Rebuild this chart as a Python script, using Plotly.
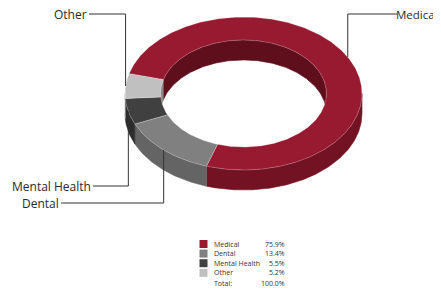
import numpy as np
import plotly.graph_objects as go

# ---- data ----
categories = ["Medical", "Dental", "Mental Health", "Other"]
shares = [75.9, 13.4, 5.5, 5.2]
total_text = "100.0%"

# ---- styles ----
top_colors = ["#981a30", "#808080", "#404040", "#c0c0c0"]
side_colors = ["#731222", "#646464", "#2c2c2c", "#9c9c9c"]
inner_colors = ["#5f0e1c", "#555555", "#222222", "#8a8a8a"]

CX, CY = 243.5, 93.5      # ellipse centre (px)
RX, RY = 118.5, 76.5      # outer radii (px)
HOLE = 0.70
DEPTH = 20
START = 165.0             # start angle, slices run clockwise
PAGE_OFF = 8              # default body margin of the page

# label placement: (line end x, y, text anchor x, text anchor side, font size)
label_pos = {
    "Medical": (397, 14, 439, "right", 11.5),
    "Dental": (61, 203, 60, "right", 12),
    "Mental Health": (93, 186, 92, "right", 12),
    "Other": (89, 14, 88, "right", 12),
}


def pt(theta, r, dy=0.0):
    t = np.radians(theta)
    return CX + r * RX * np.cos(t), CY - r * RY * np.sin(t) + dy


def arc(a, b, r, dy=0.0, n=None):
    if n is None:
        n = max(4, int(abs(b - a) * 1.5))
    th = np.linspace(a, b, n)
    x, y = pt(th, r, dy)
    return list(x), list(y)


def clip(lo, hi, wlo, whi):
    segs = []
    for k in (-2, -1, 0, 1, 2):
        a, b = max(lo, wlo + 360 * k), min(hi, whi + 360 * k)
        if b - a > 0.01:
            segs.append((a, b))
    return segs


fig = go.Figure()

# slice angle bounds (clockwise)
bounds = []
a = START
for s in shares:
    b = a - s * 3.6
    bounds.append((b, a))  # lo, hi
    a = b

# side walls (front half) and inner walls (back half)
for i, (lo, hi) in enumerate(bounds):
    for (p, q) in clip(lo, hi, -180, 0):
        x1, y1 = arc(p, q, 1.0)
        x2, y2 = arc(q, p, 1.0, DEPTH)
        fig.add_trace(go.Scatter(x=x1 + x2, y=y1 + y2, fill="toself", mode="lines",
                                 line=dict(width=0.6, color=side_colors[i]),
                                 fillcolor=side_colors[i], hoverinfo="skip"))
    for (p, q) in clip(lo, hi, 0, 180):
        x1, y1 = arc(p, q, HOLE)
        x2, y2 = arc(q, p, HOLE, DEPTH)
        fig.add_trace(go.Scatter(x=x1 + x2, y=y1 + y2, fill="toself", mode="lines",
                                 line=dict(width=0.6, color=inner_colors[i]),
                                 fillcolor=inner_colors[i], hoverinfo="skip"))

# top faces
for i, (lo, hi) in enumerate(bounds):
    x1, y1 = arc(hi, lo, 1.0)
    x2, y2 = arc(lo, hi, HOLE)
    fig.add_trace(go.Scatter(x=x1 + x2 + [x1[0]], y=y1 + y2 + [y1[0]], fill="toself",
                             mode="lines",
                             line=dict(width=0.7, color="rgba(255,255,255,0.35)"),
                             fillcolor=top_colors[i], hoverinfo="skip"))

# leader lines and labels
for i, cat in enumerate(categories):
    lo, hi = bounds[i]
    mid = (lo + hi) / 2
    ax, ay = pt(mid, 1.0)
    lx, ty, tx, side, fs = label_pos[cat]
    fig.add_trace(go.Scatter(x=[lx, ax, ax], y=[ty, ty, ay], mode="lines",
                             line=dict(color="#333333", width=1), hoverinfo="skip"))
    fig.add_annotation(x=tx, y=ty, text=cat, showarrow=False,
                       xanchor=side, yanchor="middle", borderpad=0,
                       font=dict(family="Open Sans", size=fs, color="#2a2a2a"))

# legend table
LEG_X, LEG_Y0, LEG_DY = 203.5, 244, 9.6
VAL_X, TXT_X = 287, 212
rows_y = [LEG_Y0 + LEG_DY * k for k in range(len(categories))]
fig.add_trace(go.Scatter(x=[LEG_X] * len(categories), y=rows_y, mode="markers",
                         marker=dict(symbol="square", size=8, color=top_colors,
                                     line=dict(width=0)), hoverinfo="skip"))
for k, cat in enumerate(categories):
    fig.add_annotation(x=TXT_X, y=rows_y[k], text=cat, showarrow=False, xanchor="left",
                       yanchor="middle", font=dict(family="Open Sans", size=7, color="#333333"))
    fig.add_annotation(x=VAL_X, y=rows_y[k], text=f"{shares[k]:.1f}%", showarrow=False,
                       xanchor="right", yanchor="middle",
                       font=dict(family="Open Sans", size=7, color="#333333"))
total_y = rows_y[-1] + 10.5
fig.add_annotation(x=TXT_X, y=total_y, text="Total:", showarrow=False, xanchor="left",
                   yanchor="middle", font=dict(family="Open Sans", size=7, color="#333333"))
fig.add_annotation(x=VAL_X, y=total_y, text=total_text, showarrow=False, xanchor="right",
                   yanchor="middle", font=dict(family="Open Sans", size=7, color="#333333"))

W, H = 441, 293
fig.update_layout(
    width=W - PAGE_OFF, height=H - PAGE_OFF, margin=dict(l=0, r=0, t=0, b=0),
    paper_bgcolor="white", plot_bgcolor="white", showlegend=False,
    xaxis=dict(range=[PAGE_OFF, W], visible=False, fixedrange=True),
    yaxis=dict(range=[H, PAGE_OFF], visible=False, fixedrange=True),
)

fig.write_html("out.html", post_script="document.body.style.overflow='hidden';")
